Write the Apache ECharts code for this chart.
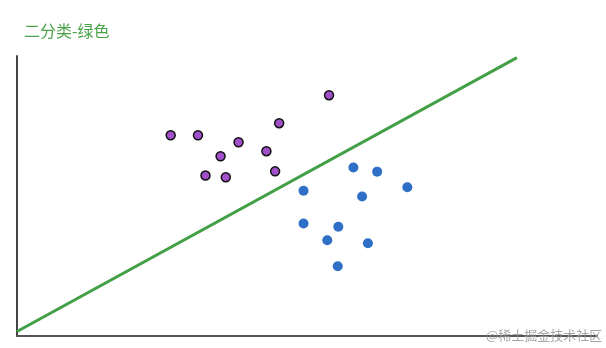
<!DOCTYPE html>
<html><head><meta charset="utf-8">
<script src="https://cdn.jsdelivr.net/npm/echarts@6/dist/echarts.min.js"></script>
<style>html,body{margin:0;padding:0;background:#fff}#c{width:606px;height:348px}</style>
</head><body><div id="c"></div>
<script>
var titleText = '二分类-绿色';
var watermark = '@稀土掘金技术社区';
var purpleX = [26.5, 31.2, 38.2, 35.1, 43.0, 45.2, 53.8, 32.5, 36.0, 44.5];
var purpleY = [71.7, 71.7, 69.2, 64.2, 66.0, 76.0, 86.0, 57.3, 56.7, 58.8];
var blueX = [58.0, 62.1, 49.4, 59.5, 67.3, 49.4, 55.4, 53.5, 60.5, 55.3];
var blueY = [60.2, 58.7, 51.9, 49.8, 53.1, 40.2, 39.0, 34.2, 33.1, 24.9];
var lineX = [0, 86.2];
var lineY = [1.6, 99.4];

function zip(a, b) { return a.map(function (v, i) { return [v, b[i]]; }); }

var chart = echarts.init(document.getElementById('c'));
chart.setOption({
  animation: false,
  title: { text: titleText, left: 19, top: 18, textStyle: { color: '#4aa34a', fontSize: 16, fontWeight: 'normal', fontFamily: 'Noto Sans CJK SC' } },
  grid: { left: 17, top: 56, width: 580, height: 280 },
  xAxis: { type: 'value', min: 0, max: 100, axisLine: { show: true, lineStyle: { color: '#555', width: 2 } }, axisTick: { show: false }, axisLabel: { show: false }, splitLine: { show: false } },
  yAxis: { type: 'value', min: 0, max: 100, axisLine: { show: true, lineStyle: { color: '#444', width: 2 } }, axisTick: { show: false }, axisLabel: { show: false }, splitLine: { show: false } },
  series: [
    { type: 'line', data: zip(lineX, lineY), symbol: 'none', lineStyle: { color: '#43a047', width: 3 }, z: 1 },
    { type: 'scatter', data: zip(purpleX, purpleY), symbolSize: 9, itemStyle: { color: '#a24fcc', borderColor: '#111', borderWidth: 1.5, opacity: 1 }, z: 3 },
    { type: 'scatter', data: zip(blueX, blueY), symbolSize: 10, itemStyle: { color: '#2f6fc6', opacity: 1 }, z: 3 }
  ],
  graphic: [
    { type: 'text', left: 486, top: 329, z: 10, style: { text: watermark, fill: 'rgba(150,150,150,0.85)', fontSize: 13, fontFamily: 'Noto Sans CJK SC' } }
  ]
});
</script>
</body></html>
